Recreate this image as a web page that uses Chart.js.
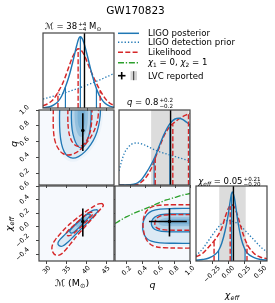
<!DOCTYPE html>
<html><head><meta charset="utf-8">
<script src="https://cdn.jsdelivr.net/npm/chart.js@4.4.1/dist/chart.umd.min.js"></script>
<style>
html,body{margin:0;padding:0;background:#fff}
body{width:275px;height:303px;position:relative;overflow:hidden;font-family:"DejaVu Sans",sans-serif;color:#000}
canvas{position:absolute;left:0;top:0}
.tx{position:absolute;white-space:nowrap;line-height:1}
.c{transform:translate(-50%,0)}
.ss{display:inline-flex;flex-direction:column;font-size:0.66em;line-height:0.95;vertical-align:0.5em;margin-left:1px;text-align:left}
.sb{font-size:0.68em;vertical-align:-0.3em}
.rot{transform:translate(-50%,-50%) rotate(-90deg)}
.cc{transform:translate(-50%,-50%)}
</style></head><body>
<div class="tx c" style="left:135.5px;top:5px;font-size:10.5px">GW170823</div>
<div class="tx c" style="left:73px;top:21.5px;font-size:8.5px"><i>ℳ</i> = 38<span class="ss"><span>+4</span><span>−4</span></span> M<span class="sb">⊙</span></div>
<div class="tx c" style="left:150px;top:98px;font-size:8.5px"><i>q</i> = 0.8<span class="ss"><span>+0.2</span><span>−0.2</span></span></div>
<div class="tx c" style="left:229.5px;top:176.5px;font-size:8.5px"><i>χ</i><span class="sb"><i>eff</i></span> = 0.05<span class="ss"><span>+0.21</span><span>−0.20</span></span></div>

<div class="tx" style="left:148px;top:29.2px;font-size:8.6px">LIGO posterior</div>
<div class="tx" style="left:148px;top:38.2px;font-size:8.6px">LIGO detection prior</div>
<div class="tx" style="left:148px;top:48.2px;font-size:8.6px">Likelihood</div>
<div class="tx" style="left:148px;top:58.4px;font-size:8.6px"><i>χ</i><span class="sb">1</span> = 0, <i>χ</i><span class="sb">2</span> = 1</div>
<div class="tx" style="left:148px;top:71.6px;font-size:8.6px">LVC reported</div>

<div class="tx rot" style="left:14px;top:144px;font-size:9.5px"><i>q</i></div>
<div class="tx rot" style="left:10px;top:224px;font-size:9.5px"><i>χ</i><span class="sb"><i>eff</i></span></div>
<div class="tx cc" style="left:72px;top:284px;font-size:9.5px"><i>ℳ</i> (M<span class="sb">⊙</span>)</div>
<div class="tx cc" style="left:152.5px;top:285px;font-size:9.5px"><i>q</i></div>
<div class="tx cc" style="left:232px;top:296px;font-size:9.5px"><i>χ</i><span class="sb"><i>eff</i></span></div>

<svg style="position:absolute;left:0;top:0;z-index:5" width="275" height="303">
<line x1="118" y1="33.3" x2="139" y2="33.3" stroke="#1f77b4" stroke-width="1.5"/>
<line x1="118" y1="42.3" x2="139" y2="42.3" stroke="#1f77b4" stroke-width="1.4" stroke-dasharray="1.3 2"/>
<line x1="118" y1="52.3" x2="139" y2="52.3" stroke="#d62728" stroke-width="1.5" stroke-dasharray="5 2.3"/>
<line x1="118" y1="62.7" x2="139" y2="62.7" stroke="#2ca02c" stroke-width="1.4" stroke-dasharray="6 1.8 1.3 1.8"/>
<line x1="118" y1="75.7" x2="125.5" y2="75.7" stroke="#000" stroke-width="1.6"/>
<line x1="121.7" y1="72" x2="121.7" y2="79.4" stroke="#000" stroke-width="1.6"/>
<rect x="130.5" y="71.2" width="6.5" height="9" fill="#d4d4d4"/>
<line x1="133.7" y1="71.2" x2="133.7" y2="80.2" stroke="#000" stroke-width="0.8"/>
</svg>

<script>
// ================= DATA =================
const mRange = [28, 47], qRange = [0.05, 1.0], chiRange = [-0.5, 0.6];
const mTicks = [30, 35, 40, 45];
const mTickLabels = ['30', '35', '40', '45'];
const qTicks = [0.2, 0.4, 0.6, 0.8, 1.0];
const qTickLabels = ['0.2', '0.4', '0.6', '0.8', '1.0'];
const chiXTicks = [-0.25, 0, 0.25, 0.5];
const chiXTickLabels = ['−0.25', '0.00', '0.25', '0.50'];
const chiYTicks = [-0.4, -0.2, 0, 0.2, 0.4, 0.6];
const chiYTickLabels = ['−0.4', '−0.2', '0.0', '0.2', '0.4', '0.6'];

// LVC reported values
const lvcM = 39.1;
const lvcQ = 0.74, lvcQInt = [0.48, 0.96];
const lvcChi = 0.08, lvcChiInt = [-0.14, 0.27];

// 1D: chirp mass (relative density)
const mPosterior = [[28,0.004],[30,0.02],[31,0.045],[32,0.085],[33,0.16],[34,0.28],[35,0.43],[36,0.62],[37,0.83],[37.6,0.93],[38,0.95],[38.5,0.925],[39,0.86],[40,0.67],[41,0.47],[42,0.30],[43,0.175],[44,0.095],[45,0.048],[46,0.022],[47,0.01]];
const mLikelihood = [[28,0.03],[29,0.05],[30,0.08],[31,0.13],[32,0.21],[33,0.30],[34,0.42],[35,0.56],[36,0.69],[37,0.775],[37.5,0.79],[38,0.78],[39,0.71],[40,0.59],[41,0.47],[42,0.36],[43,0.26],[44,0.175],[45,0.105],[46,0.06],[47,0.035]];
const mPrior = [[28,0.12],[31,0.16],[34,0.205],[37,0.255],[40,0.31],[43,0.37],[45,0.415],[47,0.46]];
const mPostQuant = [34, 38, 42.3], mPostQuantH = [0.28, 0.95, 0.26];
const mLikeQuant = [32, 37.4, 43.3], mLikeQuantH = [0.21, 0.79, 0.235];

// 1D: mass ratio
const qPosterior = [[0.05,0],[0.2,0.003],[0.25,0.01],[0.3,0.03],[0.35,0.07],[0.4,0.14],[0.45,0.22],[0.5,0.31],[0.55,0.42],[0.6,0.55],[0.65,0.67],[0.7,0.77],[0.75,0.84],[0.8,0.88],[0.85,0.89],[0.9,0.875],[0.95,0.84],[1.0,0.80]];
const qLikelihood = [[0.05,0],[0.25,0.003],[0.3,0.01],[0.35,0.04],[0.4,0.09],[0.45,0.16],[0.5,0.26],[0.55,0.40],[0.6,0.53],[0.65,0.65],[0.7,0.74],[0.75,0.80],[0.8,0.84],[0.85,0.88],[0.9,0.91],[0.95,0.935],[1.0,0.955]];
const qPrior = [[0.05,0.19],[0.08,0.30],[0.12,0.42],[0.17,0.50],[0.22,0.545],[0.28,0.56],[0.33,0.555],[0.4,0.53],[0.5,0.48],[0.6,0.44],[0.7,0.41],[0.8,0.38],[0.9,0.35],[1.0,0.32]];
const qPostQuant = [0.52, 0.73, 1.0], qPostQuantH = [0.35, 0.78, 0.8];
const qLikeQuant = [0.535, 0.77, 0.98], qLikeQuantH = [0.38, 0.81, 0.95];

// 1D: effective spin
const chiPosterior = [[-0.5,0.01],[-0.4,0.02],[-0.3,0.04],[-0.2,0.09],[-0.15,0.14],[-0.1,0.24],[-0.05,0.40],[0,0.62],[0.03,0.80],[0.06,0.92],[0.09,0.86],[0.12,0.70],[0.15,0.52],[0.2,0.30],[0.25,0.17],[0.3,0.10],[0.4,0.045],[0.5,0.02],[0.6,0.01]];
const chiLikelihood = [[-0.5,0.055],[-0.4,0.10],[-0.3,0.19],[-0.2,0.29],[-0.1,0.44],[-0.05,0.58],[0,0.70],[0.05,0.75],[0.1,0.71],[0.15,0.59],[0.2,0.44],[0.25,0.31],[0.3,0.21],[0.4,0.10],[0.5,0.05],[0.6,0.03]];
const chiPrior = [[-0.5,0.07],[-0.4,0.16],[-0.3,0.28],[-0.2,0.40],[-0.1,0.50],[0,0.54],[0.1,0.52],[0.2,0.46],[0.3,0.37],[0.4,0.28],[0.5,0.19],[0.6,0.12]];
const chiPostQuant = [-0.15, 0.05, 0.26], chiPostQuantH = [0.14, 0.90, 0.16];
const chiLikeQuant = [-0.22, 0.03, 0.29], chiLikeQuantH = [0.27, 0.73, 0.22];

// 2D: chirp mass vs q (contours and density levels)
const mqBlueOuter = [[33.3,1.1],[33.2,0.9],[33.3,0.72],[33.7,0.57],[34.4,0.47],[35.4,0.41],[36.6,0.39],[38.0,0.41],[39.6,0.47],[41.1,0.56],[42.3,0.67],[43.1,0.80],[43.5,0.93],[43.6,1.1]];
const mqBlueInner = [[36.3,1.1],[36.2,0.9],[36.4,0.75],[36.9,0.64],[37.6,0.56],[38.5,0.52],[39.4,0.54],[40.2,0.61],[40.8,0.71],[41.1,0.83],[41.2,0.95],[41.2,1.1]];
const mqRedOuter = [[31.7,1.1],[31.6,0.9],[31.7,0.72],[32.1,0.60],[32.9,0.51],[34.0,0.45],[35.4,0.43],[37.0,0.45],[38.7,0.51],[40.3,0.60],[41.6,0.70],[42.5,0.81],[43.0,0.93],[43.1,1.1]];
const mqRedInner = [[35.4,1.1],[35.3,0.9],[35.5,0.74],[36.0,0.64],[36.8,0.57],[37.8,0.54],[38.9,0.55],[39.9,0.60],[40.7,0.68],[41.2,0.79],[41.4,0.92],[41.4,1.1]];
const mqDensHalo = [[32.6,1.1],[32.5,0.85],[32.8,0.62],[33.6,0.46],[35.0,0.37],[36.8,0.345],[38.6,0.38],[40.5,0.46],[42.3,0.58],[43.5,0.72],[44.1,0.88],[44.3,1.1]];
const mqDensCore = [[37.1,1.1],[37.0,0.92],[37.3,0.78],[37.9,0.69],[38.7,0.66],[39.5,0.69],[40.1,0.77],[40.4,0.9],[40.5,1.1]];
const mqDensPeak = [[37.8,0.99],[37.8,0.88],[38.2,0.78],[38.8,0.75],[39.4,0.79],[39.7,0.88],[39.7,0.99]];

// 2D: chirp mass vs chi_eff
const mcBlueOuter = [[42.7,0.255],[41.5,0.24],[39.8,0.17],[38.0,0.08],[36.2,-0.02],[34.6,-0.11],[33.4,-0.18],[32.8,-0.235],[33.1,-0.275],[34.0,-0.28],[35.3,-0.225],[37.0,-0.125],[39.0,-0.01],[41.0,0.105],[42.4,0.195],[42.95,0.235],[42.7,0.255]];
const mcBlueInner = [[40.9,0.19],[40.0,0.18],[38.8,0.12],[37.5,0.05],[36.3,-0.02],[35.8,-0.06],[36.1,-0.09],[37.0,-0.07],[38.3,0.0],[39.6,0.075],[40.6,0.14],[41.0,0.17],[40.9,0.19]];
const mcRedOuter = [[44.0,0.345],[42.8,0.33],[41.0,0.27],[39.0,0.19],[37.0,0.10],[35.0,0.0],[33.4,-0.10],[32.0,-0.20],[31.3,-0.29],[31.5,-0.37],[32.3,-0.415],[33.4,-0.405],[34.6,-0.345],[36.1,-0.24],[38.0,-0.105],[40.0,0.025],[42.0,0.155],[43.5,0.255],[44.3,0.315],[44.0,0.345]];
const mcRedInner = [[41.5,0.215],[40.6,0.21],[39.3,0.15],[37.8,0.075],[36.3,-0.005],[35.2,-0.065],[34.9,-0.105],[35.4,-0.13],[36.3,-0.115],[37.7,-0.05],[39.3,0.04],[40.7,0.125],[41.6,0.185],[41.5,0.215]];
const mcDensHalo = [[43.4,0.29],[41.5,0.28],[39.5,0.2],[37.5,0.09],[35.5,-0.03],[33.7,-0.15],[32.3,-0.25],[32.5,-0.32],[33.8,-0.33],[35.5,-0.26],[37.5,-0.13],[39.5,0.0],[41.5,0.13],[43.3,0.24],[43.4,0.29]];
const mcDensCore = [[40.1,0.15],[39.2,0.13],[38.2,0.08],[37.4,0.03],[37.6,0.0],[38.5,0.02],[39.5,0.07],[40.2,0.12],[40.1,0.15]];
const mcDensPeak = [[39.6,0.12],[38.9,0.1],[38.3,0.065],[38.5,0.04],[39.2,0.06],[39.7,0.1],[39.6,0.12]];

// 2D: q vs chi_eff
const qcBlueOuter = [[1.1,0.27],[0.8,0.27],[0.62,0.262],[0.52,0.235],[0.455,0.18],[0.415,0.1],[0.4,0.01],[0.41,-0.08],[0.445,-0.16],[0.51,-0.21],[0.63,-0.235],[0.8,-0.24],[1.1,-0.24]];
const qcBlueInner = [[1.1,0.19],[0.8,0.19],[0.63,0.18],[0.555,0.145],[0.515,0.085],[0.515,0.02],[0.55,-0.035],[0.64,-0.065],[0.8,-0.072],[1.1,-0.072]];
const qcRedOuter = [[1.1,0.325],[0.8,0.325],[0.62,0.318],[0.52,0.295],[0.455,0.24],[0.42,0.16],[0.405,0.06],[0.41,-0.04],[0.43,-0.14],[0.475,-0.23],[0.55,-0.285],[0.68,-0.305],[0.85,-0.31],[1.1,-0.31]];
const qcRedInner = [[1.1,0.18],[0.8,0.18],[0.67,0.172],[0.6,0.145],[0.562,0.09],[0.556,0.03],[0.58,-0.015],[0.65,-0.04],[0.8,-0.048],[1.1,-0.048]];
const qcDensHalo = [[1.1,0.31],[0.75,0.31],[0.55,0.29],[0.44,0.22],[0.38,0.1],[0.38,-0.05],[0.42,-0.18],[0.5,-0.26],[0.65,-0.28],[1.1,-0.28]];
const qcDensCore = [[1.1,0.14],[0.8,0.14],[0.66,0.125],[0.6,0.08],[0.62,0.03],[0.7,0.012],[1.1,0.012]];
const qcDensPeak = [[1.05,0.115],[0.8,0.115],[0.7,0.1],[0.67,0.075],[0.71,0.045],[0.8,0.04],[1.05,0.04]];
// chi1=0, chi2=1 curve
const qcSpinCurve = [[0.05,0.05],[0.1,0.085],[0.2,0.15],[0.3,0.205],[0.4,0.25],[0.5,0.3],[0.6,0.35],[0.7,0.395],[0.8,0.43],[0.9,0.465],[1.0,0.49]];

// ================= STYLE / HELPERS =================
const BLUE = '#1f77b4', RED = '#d62728', GREEN = '#2ca02c', GRAYBAND = '#dcdcdc';
const DASH = [5, 2.3], DOT = [1.3, 2], DASHDOT = [6, 1.8, 1.3, 1.8];
const SH = 'rgba(66,146,198,';
const COLS = [39, 115, 192], ROWS = [33, 110, 186], PW = 75, PH = 75;

function line(pts, color, width, dash, extra) {
  return Object.assign({data: pts.map(p => ({x: p[0], y: p[1]})), showLine: true, borderColor: color,
    borderWidth: width, borderDash: dash || [], pointRadius: 0, fill: false, tension: 0, clip: 0}, extra || {});
}
function curve(pts, color, width, dash) { return line(pts, color, width, dash, {cubicInterpolationMode: 'monotone'}); }
function contour(pts, color, width, dash) { return line(pts, color, width, dash, {tension: 0.4}); }
function area(pts, color) {
  return line(pts, 'rgba(0,0,0,0)', 1, [], {fill: 'shape', backgroundColor: color, tension: 0.4});
}
function band(lo, hi) {
  return line([[lo, -1], [lo, 2], [hi, 2], [hi, -1]], 'rgba(0,0,0,0)', 1, [], {fill: 'shape', backgroundColor: GRAYBAND});
}
function vlines(xs, hs, color, width, dash) { return xs.map((v, i) => line([[v, 0], [v, hs[i]]], color, width, dash)); }
function dot(x, y) { return {data: [{x, y}], showLine: false, pointRadius: 1.8, backgroundColor: '#000', borderWidth: 0, clip: 0}; }

const framePlugin = {
  id: 'frame',
  beforeDatasetsDraw(chart) {
    const o = chart.options.plugins.frame, a = chart.chartArea, c = chart.ctx;
    if (o.bg) { c.save(); c.fillStyle = o.bg; c.fillRect(a.left, a.top, a.right - a.left, a.bottom - a.top); c.restore(); }
  },
  afterDraw(chart) {
    const o = chart.options.plugins.frame, a = chart.chartArea, c = chart.ctx;
    c.save();
    c.strokeStyle = '#444'; c.lineWidth = 1.2;
    c.strokeRect(a.left, a.top, a.right - a.left, a.bottom - a.top);
    const f = 6.6; c.font = f + 'px "DejaVu Sans"'; c.fillStyle = '#000';
    c.textAlign = 'center'; c.textBaseline = 'middle';
    if (o.xl) {
      const s = chart.scales.x;
      s.ticks.forEach((t, i) => {
        const px = s.getPixelForValue(t.value), txt = o.xl[i];
        const d = (c.measureText(txt).width + f * 0.72) * 0.3536;
        c.save(); c.translate(px, a.bottom + 4.5 + d); c.rotate(-Math.PI / 4); c.fillText(txt, 0, 0); c.restore();
      });
    }
    if (o.yl) {
      const s = chart.scales.y;
      s.ticks.forEach((t, i) => {
        const py = s.getPixelForValue(t.value), txt = o.yl[i];
        const d = (c.measureText(txt).width + f * 0.72) * 0.3536;
        c.save(); c.translate(a.left - 9 - d, py); c.rotate(-Math.PI / 4); c.fillText(txt, 0, 0); c.restore();
      });
    }
    c.restore();
  }
};

function panel(col, row, xr, yr, xt, yt, xl, yl, datasets, bg) {
  const px = COLS[col], py = ROWS[row], TK = 4;
  const cv = document.createElement('canvas');
  cv.width = 275; cv.height = 303;
  document.body.insertBefore(cv, document.body.firstChild);
  const n = datasets.length;
  datasets.forEach((d, i) => { d.order = n - i; });
  const grid = {drawOnChartArea: false, drawTicks: true, tickLength: 3, color: '#444', lineWidth: 1};
  new Chart(cv, {
    type: 'scatter',
    data: {datasets},
    options: {
      responsive: false, animation: false, events: [],
      layout: {padding: {left: px - (yt ? TK : 0), top: py, right: 275 - (px + PW), bottom: 303 - (py + PH) - TK}},
      plugins: {legend: {display: false}, tooltip: {enabled: false}, title: {display: false}, frame: {xl, yl, bg}},
      scales: {
        x: {type: 'linear', min: xr[0], max: xr[1], afterBuildTicks: s => { s.ticks = xt.map(v => ({value: v})); },
            afterFit: s => { s.height = TK; }, ticks: {display: false}, grid, border: {display: false}},
        y: {type: 'linear', display: !!yt, min: yr[0], max: yr[1],
            afterBuildTicks: s => { if (yt) s.ticks = yt.map(v => ({value: v})); },
            afterFit: s => { s.width = TK; }, ticks: {display: false}, grid, border: {display: false}}
      }
    },
    plugins: [framePlugin]
  });
}

const BG2D = '#f6f9fd';

// top-left: chirp mass 1D
panel(0, 0, mRange, [0, 1], mTicks, null, null, null, [
  curve(mPrior, BLUE, 1.3, DOT),
  curve(mLikelihood, RED, 1.5, DASH),
  curve(mPosterior, BLUE, 1.4),
  ...vlines(mPostQuant, mPostQuantH, BLUE, 1.2),
  ...vlines(mLikeQuant, mLikeQuantH, RED, 1.4, DASH),
  line([[lvcM, 0], [lvcM, 1]], '#000', 1.4)
]);

// middle-left: M vs q
panel(0, 1, mRange, qRange, mTicks, qTicks, null, qTickLabels, [
  area(mqDensHalo, SH + '0.05)'), area(mqBlueOuter, SH + '0.09)'), area(mqBlueInner, SH + '0.25)'),
  area(mqDensCore, SH + '0.3)'), area(mqDensPeak, SH + '0.3)'),
  contour(mqBlueOuter, BLUE, 1.3), contour(mqBlueInner, BLUE, 1.3),
  contour(mqRedOuter, RED, 1.4, DASH), contour(mqRedInner, RED, 1.4, DASH),
  line([[lvcM, lvcQInt[0]], [lvcM, lvcQInt[1]]], '#000', 1.6),
  dot(lvcM, lvcQ)
], BG2D);

// middle-center: q 1D
panel(1, 1, qRange, [0, 1], qTicks, null, null, null, [
  band(lvcQInt[0], 0.98),
  curve(qPrior, BLUE, 1.3, DOT),
  curve(qLikelihood, RED, 1.5, DASH),
  curve(qPosterior, BLUE, 1.4),
  ...vlines(qPostQuant, qPostQuantH, BLUE, 1.2),
  ...vlines(qLikeQuant, qLikeQuantH, RED, 1.4, DASH),
  line([[lvcQ, 0], [lvcQ, 1]], '#000', 1.4)
]);

// bottom-left: M vs chi_eff
panel(0, 2, mRange, chiRange, mTicks, chiYTicks, mTickLabels, chiYTickLabels, [
  area(mcDensHalo, SH + '0.05)'), area(mcBlueOuter, SH + '0.09)'), area(mcBlueInner, SH + '0.25)'),
  area(mcDensCore, SH + '0.3)'), area(mcDensPeak, SH + '0.3)'),
  contour(mcBlueOuter, BLUE, 1.3), contour(mcBlueInner, BLUE, 1.3),
  contour(mcRedOuter, RED, 1.4, DASH), contour(mcRedInner, RED, 1.4, DASH),
  line([[lvcM, lvcChiInt[0]], [lvcM, lvcChiInt[1]]], '#000', 1.6),
  dot(lvcM, lvcChi)
], BG2D);

// bottom-center: q vs chi_eff
panel(1, 2, qRange, chiRange, qTicks, chiYTicks, qTickLabels, null, [
  area(qcDensHalo, SH + '0.05)'), area(qcBlueOuter, SH + '0.09)'), area(qcBlueInner, SH + '0.25)'),
  area(qcDensCore, SH + '0.3)'), area(qcDensPeak, SH + '0.3)'),
  contour(qcBlueOuter, BLUE, 1.3), contour(qcBlueInner, BLUE, 1.3),
  contour(qcRedOuter, RED, 1.4, DASH), contour(qcRedInner, RED, 1.4, DASH),
  curve(qcSpinCurve, GREEN, 1.3, DASHDOT),
  line([[lvcQInt[0], lvcChi], [lvcQInt[1], lvcChi]], '#000', 1.6),
  line([[lvcQ, lvcChiInt[0]], [lvcQ, lvcChiInt[1]]], '#000', 1.6),
  dot(lvcQ, lvcChi)
], BG2D);

// bottom-right: chi_eff 1D
panel(2, 2, chiRange, [0, 1], chiXTicks, null, chiXTickLabels, null, [
  band(lvcChiInt[0], lvcChiInt[1]),
  curve(chiPrior, BLUE, 1.3, DOT),
  curve(chiLikelihood, RED, 1.5, DASH),
  curve(chiPosterior, BLUE, 1.4),
  ...vlines(chiPostQuant, chiPostQuantH, BLUE, 1.2),
  ...vlines(chiLikeQuant, chiLikeQuantH, RED, 1.4, DASH),
  line([[lvcChi, 0], [lvcChi, 1]], '#000', 1.4)
]);
</script>
</body></html>
